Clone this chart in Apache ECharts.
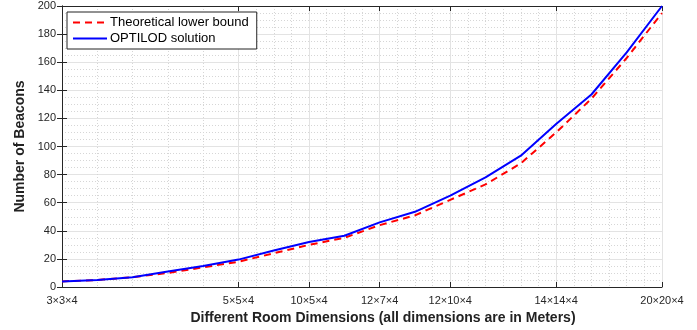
<!DOCTYPE html>
<html>
<head>
<meta charset="utf-8">
<script src="https://cdn.jsdelivr.net/npm/echarts@6/dist/echarts.min.js"></script>
<style>
  html, body { margin: 0; padding: 0; background: #fff; }
  #chart { width: 697px; height: 330px; }
</style>
</head>
<body>
<div id="chart"></div>
<script>
// room index 0..17, only some of them carry a label
const tickIndex = [0, 5, 7, 9, 11, 14, 17];
const tickLabels = ['3×3×4', '5×5×4', '10×5×4', '12×7×4', '12×10×4', '14×14×4', '20×20×4'];
const minorIndex = [1, 2, 3, 4, 5.5, 6, 6.5, 7.5, 8, 8.5, 9.5, 10, 10.5, 11.5, 12, 12.5, 13, 13.5,
  14.5, 15, 15.5, 16, 16.5];
const lowerBound = [4, 5, 7, 10, 14, 18, 24, 30, 35, 44, 51, 62, 73, 88, 110, 134, 163, 195];
const optilod = [4, 5, 7, 11, 15, 19.5, 26, 32, 36.5, 46, 53.5, 65, 78, 93.5, 116, 137, 167, 200];

const FONT = 'Liberation Sans, Arial, Helvetica, sans-serif';
const AXIS_COLOR = '#262626';

function pairs(arr) {
  return arr.map((v, i) => [i, v]);
}

const chart = echarts.init(document.getElementById('chart'));

chart.setOption({
  animation: false,
  textStyle: { fontFamily: FONT },
  grid: { left: 62, right: 35, top: 6, bottom: 42 },
  legend: {
    orient: 'vertical',
    left: 67,
    top: 12,
    backgroundColor: '#fff',
    borderColor: '#222',
    borderWidth: 1,
    borderRadius: 0,
    padding: [4, 8, 4, 5],
    itemGap: 3,
    itemWidth: 34,
    itemHeight: 13,
    itemStyle: { color: 'rgba(0,0,0,0)', borderWidth: 0 },
    textStyle: { fontFamily: FONT, fontSize: 13, color: '#000', padding: [0, 0, 0, -2] },
    data: ['Theoretical lower bound', 'OPTILOD solution']
  },
  xAxis: [
    {
      type: 'value',
      min: 0,
      max: 17,
      position: 'bottom',
      name: 'Different Room Dimensions (all dimensions are in Meters)',
      nameLocation: 'middle',
      nameGap: 24,
      nameTextStyle: {
        fontFamily: FONT, fontSize: 14, fontWeight: 'bold', color: '#222',
        padding: [0, 0, 0, 42]
      },
      axisLine: { lineStyle: { color: AXIS_COLOR, width: 1 } },
      axisTick: { inside: true, length: 5, customValues: tickIndex, lineStyle: { color: AXIS_COLOR } },
      axisLabel: {
        customValues: tickIndex,
        fontSize: 11,
        color: AXIS_COLOR,
        margin: 8,
        formatter: v => tickLabels[tickIndex.indexOf(v)]
      },
      splitLine: { show: true, lineStyle: { color: '#e3e3e3', width: 1 } }
    },
    {
      type: 'value',
      min: 0,
      max: 17,
      position: 'bottom',
      axisLine: { show: false },
      axisTick: { show: false, customValues: minorIndex },
      axisLabel: { show: false, customValues: minorIndex },
      splitLine: { show: true, lineStyle: { color: '#d6d6d6', width: 1, type: [1, 2] } }
    },
    {
      type: 'value',
      min: 0,
      max: 17,
      position: 'top',
      axisLine: { lineStyle: { color: AXIS_COLOR, width: 1 } },
      axisTick: { inside: true, length: 5, customValues: tickIndex, lineStyle: { color: AXIS_COLOR } },
      axisLabel: { show: false },
      splitLine: { show: false }
    }
  ],
  yAxis: [
    {
      type: 'value',
      min: 0,
      max: 200,
      interval: 20,
      position: 'left',
      name: 'Number of Beacons',
      nameLocation: 'middle',
      nameGap: 33,
      nameTextStyle: { fontFamily: FONT, fontSize: 14, fontWeight: 'bold', color: '#222' },
      axisLine: { show: true, lineStyle: { color: AXIS_COLOR, width: 1 } },
      axisTick: { show: true, inside: true, length: 5, lineStyle: { color: AXIS_COLOR } },
      axisLabel: { fontSize: 11, color: AXIS_COLOR, margin: 6 },
      splitLine: { show: true, lineStyle: { color: '#e3e3e3', width: 1 } },
      minorTick: { show: false, splitNumber: 4 },
      minorSplitLine: { show: true, lineStyle: { color: '#d6d6d6', width: 1, type: [1, 2] } }
    },
    {
      type: 'value',
      min: 0,
      max: 200,
      interval: 20,
      position: 'right',
      axisLine: { show: true, lineStyle: { color: AXIS_COLOR, width: 1 } },
      axisTick: { show: true, inside: true, length: 5, lineStyle: { color: AXIS_COLOR } },
      axisLabel: { show: false },
      splitLine: { show: false }
    }
  ],
  series: [
    {
      name: 'Theoretical lower bound',
      type: 'line',
      xAxisIndex: 0,
      yAxisIndex: 0,
      symbol: 'none',
      data: pairs(lowerBound),
      lineStyle: { color: '#ff0000', width: 2, type: [7, 5] },
      itemStyle: { color: '#ff0000' },
      z: 3
    },
    {
      name: 'OPTILOD solution',
      type: 'line',
      xAxisIndex: 0,
      yAxisIndex: 0,
      symbol: 'none',
      data: pairs(optilod),
      lineStyle: { color: '#0000ff', width: 2 },
      itemStyle: { color: '#0000ff' },
      z: 4
    }
  ]
});
</script>
</body>
</html>
